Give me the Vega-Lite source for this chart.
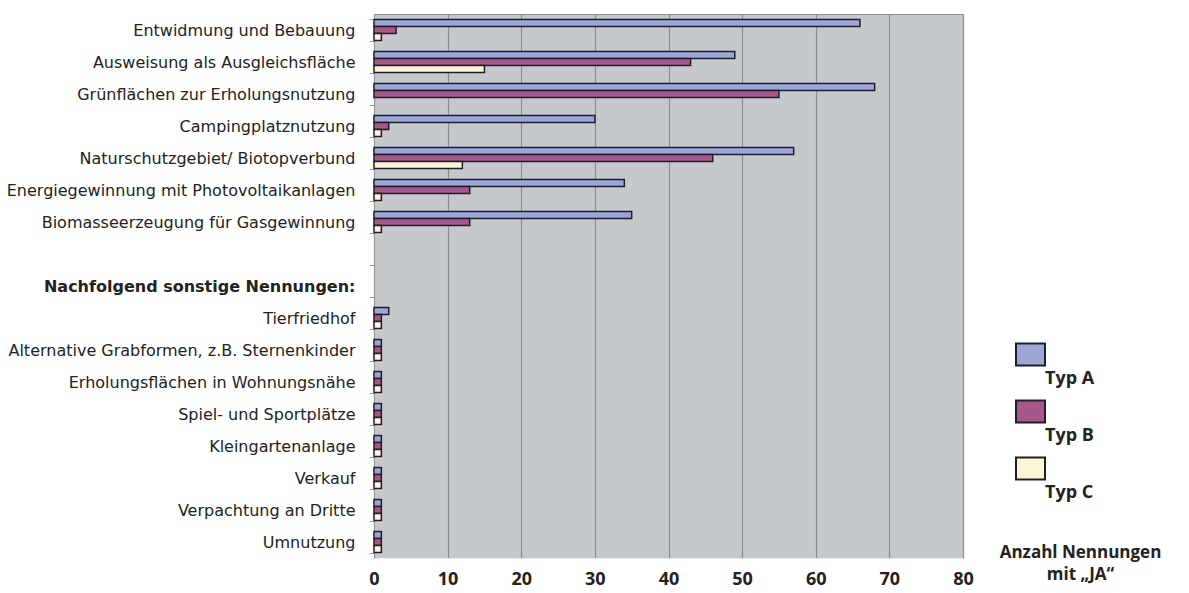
{
  "$schema": "https://vega.github.io/schema/vega-lite/v6.json",
  "width": 589,
  "height": 544,
  "autosize": {"type": "none"},
  "padding": {"left": 374, "top": 14, "right": 226, "bottom": 35},
  "background": "white",
  "config": {
    "font": "Open Sans",
    "view": {"fill": "#c5c9cc", "stroke": "#8a8d90", "strokeWidth": 1}
  },
  "data": {
    "values": [
      {"cat": "Entwidmung und Bebauung", "typ": "Typ A", "value": 66},
      {"cat": "Entwidmung und Bebauung", "typ": "Typ B", "value": 3},
      {"cat": "Entwidmung und Bebauung", "typ": "Typ C", "value": 1},
      {"cat": "Ausweisung als Ausgleichsfläche", "typ": "Typ A", "value": 49},
      {"cat": "Ausweisung als Ausgleichsfläche", "typ": "Typ B", "value": 43},
      {"cat": "Ausweisung als Ausgleichsfläche", "typ": "Typ C", "value": 15},
      {"cat": "Grünflächen zur Erholungsnutzung", "typ": "Typ A", "value": 68},
      {"cat": "Grünflächen zur Erholungsnutzung", "typ": "Typ B", "value": 55},
      {"cat": "Campingplatznutzung", "typ": "Typ A", "value": 30},
      {"cat": "Campingplatznutzung", "typ": "Typ B", "value": 2},
      {"cat": "Campingplatznutzung", "typ": "Typ C", "value": 1},
      {"cat": "Naturschutzgebiet/ Biotopverbund", "typ": "Typ A", "value": 57},
      {"cat": "Naturschutzgebiet/ Biotopverbund", "typ": "Typ B", "value": 46},
      {"cat": "Naturschutzgebiet/ Biotopverbund", "typ": "Typ C", "value": 12},
      {"cat": "Energiegewinnung mit Photovoltaikanlagen", "typ": "Typ A", "value": 34},
      {"cat": "Energiegewinnung mit Photovoltaikanlagen", "typ": "Typ B", "value": 13},
      {"cat": "Energiegewinnung mit Photovoltaikanlagen", "typ": "Typ C", "value": 1},
      {"cat": "Biomasseerzeugung für Gasgewinnung", "typ": "Typ A", "value": 35},
      {"cat": "Biomasseerzeugung für Gasgewinnung", "typ": "Typ B", "value": 13},
      {"cat": "Biomasseerzeugung für Gasgewinnung", "typ": "Typ C", "value": 1},
      {"cat": "Tierfriedhof", "typ": "Typ A", "value": 2},
      {"cat": "Tierfriedhof", "typ": "Typ B", "value": 1},
      {"cat": "Tierfriedhof", "typ": "Typ C", "value": 1},
      {"cat": "Alternative Grabformen, z.B. Sternenkinder", "typ": "Typ A", "value": 1},
      {"cat": "Alternative Grabformen, z.B. Sternenkinder", "typ": "Typ B", "value": 1},
      {"cat": "Alternative Grabformen, z.B. Sternenkinder", "typ": "Typ C", "value": 1},
      {"cat": "Erholungsflächen in Wohnungsnähe", "typ": "Typ A", "value": 1},
      {"cat": "Erholungsflächen in Wohnungsnähe", "typ": "Typ B", "value": 1},
      {"cat": "Erholungsflächen in Wohnungsnähe", "typ": "Typ C", "value": 1},
      {"cat": "Spiel- und Sportplätze", "typ": "Typ A", "value": 1},
      {"cat": "Spiel- und Sportplätze", "typ": "Typ B", "value": 1},
      {"cat": "Spiel- und Sportplätze", "typ": "Typ C", "value": 1},
      {"cat": "Kleingartenanlage", "typ": "Typ A", "value": 1},
      {"cat": "Kleingartenanlage", "typ": "Typ B", "value": 1},
      {"cat": "Kleingartenanlage", "typ": "Typ C", "value": 1},
      {"cat": "Verkauf", "typ": "Typ A", "value": 1},
      {"cat": "Verkauf", "typ": "Typ B", "value": 1},
      {"cat": "Verkauf", "typ": "Typ C", "value": 1},
      {"cat": "Verpachtung an Dritte", "typ": "Typ A", "value": 1},
      {"cat": "Verpachtung an Dritte", "typ": "Typ B", "value": 1},
      {"cat": "Verpachtung an Dritte", "typ": "Typ C", "value": 1},
      {"cat": "Umnutzung", "typ": "Typ A", "value": 1},
      {"cat": "Umnutzung", "typ": "Typ B", "value": 1},
      {"cat": "Umnutzung", "typ": "Typ C", "value": 1}
    ]
  },
  "mark": {"type": "bar", "stroke": "#1f1f2a", "strokeWidth": 1.5},
  "encoding": {
    "y": {
      "field": "cat",
      "type": "nominal",
      "scale": {
        "domain": [
          "Entwidmung und Bebauung",
          "Ausweisung als Ausgleichsfläche",
          "Grünflächen zur Erholungsnutzung",
          "Campingplatznutzung",
          "Naturschutzgebiet/ Biotopverbund",
          "Energiegewinnung mit Photovoltaikanlagen",
          "Biomasseerzeugung für Gasgewinnung",
          " ",
          "Nachfolgend sonstige Nennungen:",
          "Tierfriedhof",
          "Alternative Grabformen, z.B. Sternenkinder",
          "Erholungsflächen in Wohnungsnähe",
          "Spiel- und Sportplätze",
          "Kleingartenanlage",
          "Verkauf",
          "Verpachtung an Dritte",
          "Umnutzung"
        ],
        "paddingInner": 0.34,
        "paddingOuter": 0.17
      },
      "axis": {
        "title": null,
        "tickBand": "extent",
        "tickColor": "#999",
        "tickSize": 5,
        "domainColor": "#999",
        "labelFont": "DejaVu Sans",
        "labelFontSize": 16,
        "labelColor": "#222",
        "labelPadding": 14,
        "labelLimit": 400,
        "labelFontWeight": {
          "condition": {"test": "datum.value == 'Nachfolgend sonstige Nennungen:'", "value": "bold"},
          "value": "normal"
        }
      }
    },
    "yOffset": {
      "field": "typ",
      "type": "nominal",
      "scale": {"domain": ["Typ A", "Typ B", "Typ C"], "paddingInner": 0, "paddingOuter": 0}
    },
    "x": {
      "field": "value",
      "type": "quantitative",
      "scale": {"domain": [0, 80], "nice": false},
      "axis": {
        "values": [0, 10, 20, 30, 40, 50, 60, 70, 80],
        "grid": true,
        "gridColor": "#8c8f92",
        "gridWidth": 1.2,
        "ticks": false,
        "domainColor": "#e8eef4",
        "labelFontSize": 18,
        "labelFontWeight": "bold",
        "labelColor": "#222",
        "labelPadding": 12,
        "labelFlush": false,
        "title": ["Anzahl Nennungen", "mit „JA“"],
        "titleFontSize": 17,
        "titleFontWeight": "bold",
        "titleColor": "#222",
        "titleX": 706,
        "titleY": -14,
        "titleAlign": "center",
        "titleBaseline": "top",
        "titleLineHeight": 22
      }
    },
    "color": {
      "field": "typ",
      "type": "nominal",
      "scale": {"domain": ["Typ A", "Typ B", "Typ C"], "range": ["#9ea6d8", "#a8578a", "#faf6d6"]},
      "legend": {
        "title": null,
        "orient": "none",
        "legendX": 641,
        "legendY": 325,
        "padding": 0,
        "symbolType": "M-1,-0.76H1V0.76H-1Z",
        "symbolSize": 841,
        "symbolStrokeColor": "#1f1f2a",
        "symbolStrokeWidth": 2,
        "symbolOpacity": 1,
        "rowPadding": 8,
        "labelFontSize": 18,
        "labelFontWeight": "bold",
        "labelColor": "#222",
        "labelOffset": -1,
        "encode": {"labels": {"update": {"dy": {"value": 24}}}}
      }
    }
  }
}
